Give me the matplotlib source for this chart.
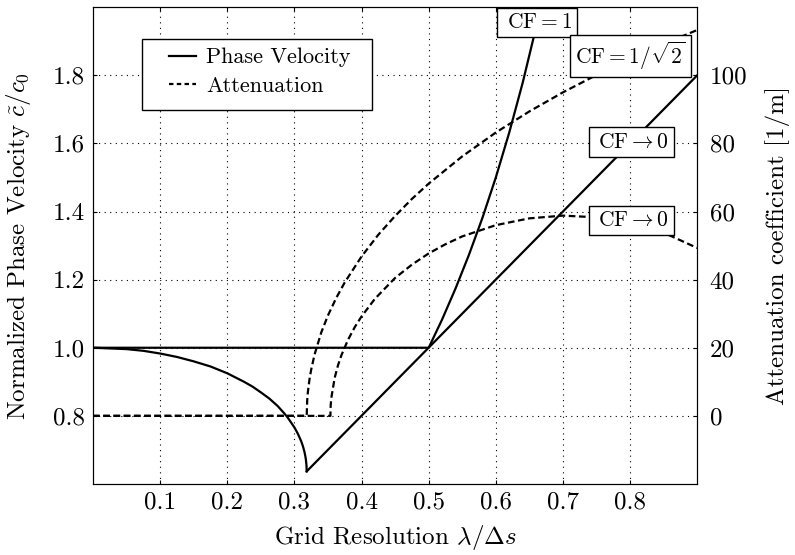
import matplotlib
matplotlib.use('Agg')
import matplotlib.pyplot as plt
from matplotlib.lines import Line2D
from matplotlib.patches import Rectangle

plt.rcParams['font.family'] = 'serif'
plt.rcParams['font.serif'] = ['cmr10', 'DejaVu Serif']
plt.rcParams['mathtext.fontset'] = 'cm'
plt.rcParams['axes.formatter.use_mathtext'] = True

# phase velocity, CF -> 0 (below cutoff)
x_cf0 = [0.0, 0.05, 0.075, 0.10, 0.125, 0.15, 0.175, 0.20, 0.225, 0.2375, 0.25,
         0.2625, 0.275, 0.285, 0.29, 0.30, 0.305, 0.31, 0.3125, 0.315, 0.3165,
         0.317, 0.318, 0.3183]
v_cf0 = [1.0, 0.996, 0.991, 0.983, 0.973, 0.960, 0.945, 0.925, 0.900, 0.886, 0.869,
         0.851, 0.829, 0.807, 0.795, 0.766, 0.748, 0.726, 0.712, 0.694, 0.679,
         0.673, 0.654, 0.637]

# phase velocity, CF -> 0 (above cutoff)
x_cf0_lin = [0.3183, 0.9]
v_cf0_lin = [0.637, 1.8]

# phase velocity, CF = 1
x_cf1 = [0.0, 0.5, 0.52, 0.54, 0.56, 0.58, 0.60, 0.62, 0.64, 0.66, 0.67]
v_cf1 = [1.0, 1.0, 1.083, 1.174, 1.273, 1.381, 1.5, 1.632, 1.778, 1.941, 2.03]

# attenuation, upper curve [1/m]
x_att1 = [0.0, 0.3183, 0.319, 0.32, 0.3225, 0.325, 0.33, 0.34, 0.35, 0.3625, 0.375,
          0.40, 0.425, 0.45, 0.475, 0.50, 0.55, 0.60, 0.65, 0.70, 0.75, 0.80,
          0.85, 0.90]
a_att1 = [0, 0, 4.4, 6.9, 10.8, 13.6, 18.0, 24.5, 29.5, 34.7, 39.2,
          46.8, 53.2, 58.7, 63.7, 68.2, 76.2, 83.2, 89.4, 95.0, 100.1, 104.8,
          109.2, 113.3]

# attenuation, lower curve [1/m]
x_att2 = [0.0, 0.3536, 0.354, 0.355, 0.36, 0.365, 0.37, 0.38, 0.39, 0.40, 0.42,
          0.45, 0.475, 0.50, 0.525, 0.55, 0.60, 0.65, 0.70, 0.75, 0.80, 0.85, 0.90]
a_att2 = [0, 0, 3.0, 5.3, 11.2, 14.9, 17.8, 22.4, 26.1, 29.2, 34.4,
          40.5, 44.4, 47.7, 50.4, 52.7, 56.0, 58.0, 58.8, 58.3, 56.7, 53.8, 49.3]

xticks = [0.1, 0.2, 0.3, 0.4, 0.5, 0.6, 0.7, 0.8]
yticks = [0.8, 1.0, 1.2, 1.4, 1.6, 1.8]
yticks_right = [0, 20, 40, 60, 80, 100]

fig = plt.figure(figsize=(7.95, 5.55), dpi=100)
ax1 = fig.add_axes([0.117, 0.128, 0.760, 0.859])
ax2 = ax1.twinx()

lw = 1.6
ax1.plot(x_cf0, v_cf0, 'k-', lw=lw)
ax1.plot(x_cf0_lin, v_cf0_lin, 'k-', lw=lw)
ax1.plot(x_cf1, v_cf1, 'k-', lw=lw)
ax2.plot(x_att1, a_att1, 'k--', lw=lw, dashes=(3, 1.6))
ax2.plot(x_att2, a_att2, 'k--', lw=lw, dashes=(3, 1.6))

ax1.set_xlim(0, 0.9)
ax1.set_ylim(0.6, 2.0)
ax2.set_ylim(-20, 120)
ax1.set_xticks(xticks)
ax1.set_xticklabels(['%.1f' % t for t in xticks])
ax1.set_yticks(yticks)
ax1.set_yticklabels(['%.1f' % t for t in yticks])
ax2.set_yticks(yticks_right)
ax2.set_yticklabels([str(t) for t in yticks_right])

ax1.grid(True, color='k', lw=0.8, linestyle=(0, (1, 4)))
ax1.tick_params(axis='x', direction='in', top=True, labelsize=18, length=3, pad=5)
ax1.tick_params(axis='y', direction='in', labelsize=18, length=3, pad=6)
ax2.tick_params(direction='in', labelsize=18, length=3, pad=9)

ax1.set_xlabel(r'Grid Resolution $\lambda/\Delta s$', fontsize=18)
ax1.set_ylabel(r'Normalized Phase Velocity $\tilde{c}/c_0$', fontsize=18)
ax2.set_ylabel('Attenuation coefficient [1/m]', fontsize=18)
ax1.xaxis.set_label_coords(0.5, -0.082)
ax1.yaxis.set_label_coords(-0.100, 0.5)
ax2.yaxis.set_label_coords(1.113, 0.5)

box = dict(boxstyle='square,pad=0.23', fc='white', ec='k', lw=1)
fs_box = 15.5
ax2.text(0.662, 1.955, r'$\;\mathrm{CF}=1\;$', fontsize=fs_box, ha='center', va='center',
         bbox=box, zorder=10, transform=ax1.transData)
ax2.text(0.801, 1.856, r'$\mathrm{CF}=1/\sqrt{2}$', fontsize=fs_box, ha='center', va='center',
         bbox=box, zorder=10, transform=ax1.transData)
ax2.text(0.802, 1.604, r'$\;\mathrm{CF}\rightarrow 0\;$', fontsize=fs_box, ha='center', va='center',
         bbox=box, zorder=10, transform=ax1.transData)
ax2.text(0.802, 1.373, r'$\;\mathrm{CF}\rightarrow 0\;$', fontsize=fs_box, ha='center', va='center',
         bbox=box, zorder=10, transform=ax1.transData)

# legend frame drawn by hand, entries without frame
ax2.add_patch(Rectangle((0.0817, 0.7841), 0.3796, 0.1488, transform=ax2.transAxes,
                        fc='white', ec='k', lw=1, zorder=9))
handles = [Line2D([], [], color='k', lw=lw),
           Line2D([], [], color='k', lw=lw, ls='--', dashes=(2, 1.5))]
leg = ax2.legend(handles, ['Phase Velocity', 'Attenuation'], loc='upper left',
                 bbox_to_anchor=(0.1265, 0.915), frameon=False, fontsize=16,
                 borderpad=0, borderaxespad=0, handlelength=1.2, handletextpad=0.45,
                 labelspacing=0.4)
leg.set_zorder(11)

fig.savefig('out.png', dpi=100)
